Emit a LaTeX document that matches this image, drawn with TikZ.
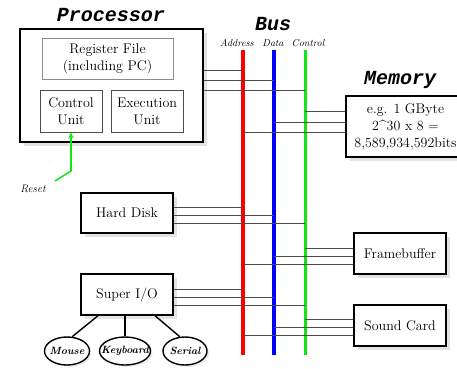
\documentclass[tikz,border=0pt]{standalone}
\usepackage{fontspec}
\setmonofont{Liberation Mono}
\usetikzlibrary{arrows,shapes,shadows}
\definecolor{busgreen}{RGB}{20,230,20}

\begin{document}
\begin{tikzpicture}[x=1pt,y=-1pt,>=stealth,
		dev node/.style={rectangle,draw=black,line width=1.4pt,fill=white,align=center,
			font=\fontsize{14}{17}\selectfont,drop shadow={shadow xshift=4pt,shadow yshift=-4pt,fill=black!22}},
		unit node/.style={rectangle,draw=black!70,line width=1pt,align=center,font=\fontsize{14}{17}\selectfont},
		port node/.style={ellipse,draw=black,line width=1.4pt,fill=white,inner xsep=-15pt,inner ysep=0pt,
			minimum height=28pt,font=\fontsize{10.5}{12}\selectfont\bfseries\itshape,
			drop shadow={shadow xshift=2pt,shadow yshift=-2pt,fill=black!15}},
		title node/.style={font=\fontsize{20}{24}\selectfont\ttfamily\bfseries\itshape},
		bus label/.style={font=\fontsize{10}{12}\selectfont\itshape},
		bus line/.style={line width=3.5pt},
		wire/.style={draw=black!70,line width=0.8pt}]
		
		\useasboundingbox (0,0) rectangle (457,368);
		
		% processor
		\node[title node] (proctitle) at (111,15) {Processor};
		\node[dev node,line width=2.6pt,minimum width=183pt,minimum height=113pt] (proc) at (111.5,85.5) {};
		\node[unit node,draw=black!45,minimum width=131pt,minimum height=41pt] (regs) at (107.5,58.5) {Register File\\(including PC)};
		\node[unit node,minimum width=62pt,minimum height=42pt] (cu) at (71,111) {Control\\Unit};
		\node[unit node,minimum width=72pt,minimum height=42pt] (eu) at (147,111) {Execution\\Unit};
		
		% reset
		\node[bus label,font=\fontsize{11}{13}\selectfont\itshape] (resetlbl) at (33,189) {Reset};
		\coordinate (reset) at (55,181);
		\coordinate (bend) at (71,171);
		\draw[->,busgreen,line width=1.6pt] (reset) -- (bend) -- (cu.south);
		
		% memory
		\node[title node] (memtitle) at (400,80) {Memory};
		\node[dev node,inner sep=1pt,minimum width=119pt,minimum height=61pt] (mem) at (405.5,126.5)
		{e.g. 1 GByte\\2\string^30 x 8 =\\8,589,934,592bits};
		
		% devices
		\node[dev node,minimum width=92pt,minimum height=40pt] (hd) at (127,213) {Hard Disk};
		\node[dev node,minimum width=92pt,minimum height=41pt] (sio) at (127,294.5) {Super I/O};
		\node[dev node,minimum width=92pt,minimum height=41pt] (fb) at (400,253.5) {Framebuffer};
		\node[dev node,minimum width=92pt,minimum height=41pt] (snd) at (400,325.5) {Sound Card};
		
		\node[port node,minimum width=45pt] (mouse) at (67,351) {Mouse};
		\node[port node,minimum width=51pt] (kbd) at (125,351) {Keyboard};
		\node[port node,minimum width=44pt] (serial) at (185,351) {Serial};
		
		\draw[line width=1.4pt] ([xshift=-29pt]sio.south) -- (mouse.70);
		\draw[line width=1.4pt] (sio.south -| kbd.north) -- (kbd.north);
		\draw[line width=1.4pt] ([xshift=28pt]sio.south) -- (serial.110);
		
		% bus
		\node[title node] (bustitle) at (273,24) {Bus};
		\node[bus label] (addrlbl) at (237,43) {Address};
		\node[bus label] (datalbl) at (273,43) {Data};
		\node[bus label] (ctrllbl) at (308,43) {Control};
		
		\coordinate (addr) at (243,50);
		\coordinate (data) at (274,50);
		\coordinate (ctrl) at (305,50);
		\draw[bus line,red] (addr) -- ++(0,305);
		\draw[bus line,blue] (data) -- ++(0,305);
		\draw[bus line,busgreen,line width=3pt] (ctrl) -- ++(0,305);
		
		% wires to the bus
		\foreach \yy/\bb in {70/addr,80/data,90/ctrl}
		\draw[wire] (proc.east |- 0,\yy) -- (\bb |- 0,\yy);
		\foreach \yy/\bb in {207/addr,215/data,223/ctrl}
		\draw[wire] (hd.east |- 0,\yy) -- (\bb |- 0,\yy);
		\foreach \yy/\bb in {289/addr,297/data,305/ctrl}
		\draw[wire] (sio.east |- 0,\yy) -- (\bb |- 0,\yy);
		\foreach \yy/\bb in {111/ctrl,122/data,132/addr}
		\draw[wire] (\bb |- 0,\yy) -- (mem.west |- 0,\yy);
		\foreach \yy/\bb in {248/ctrl,256/data,264/addr}
		\draw[wire] (\bb |- 0,\yy) -- (fb.west |- 0,\yy);
		\foreach \yy/\bb in {319/ctrl,327/data,335/addr}
		\draw[wire] (\bb |- 0,\yy) -- (snd.west |- 0,\yy);
		
	\end{tikzpicture}
\end{document}
